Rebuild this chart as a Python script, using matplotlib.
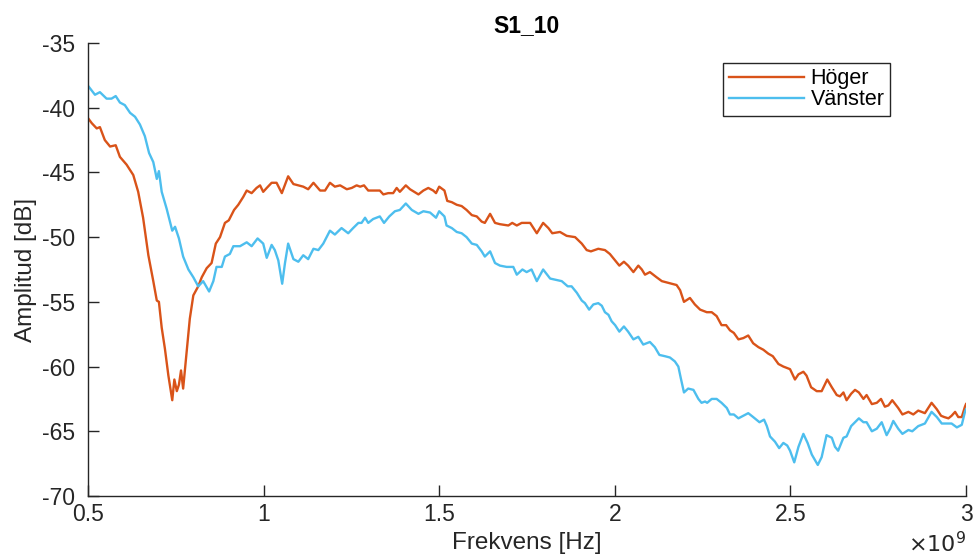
import numpy as np
import matplotlib.pyplot as plt
from matplotlib.ticker import FuncFormatter

plt.rcParams['font.family'] = ['Liberation Sans', 'DejaVu Sans']
plt.rcParams['axes.unicode_minus'] = False

# Frequency in GHz (plotted in Hz), amplitude in dB
hoger_f = [0.500, 0.511, 0.525, 0.534, 0.548, 0.563, 0.579, 0.591, 0.610, 0.629,
           0.643, 0.657, 0.672, 0.686, 0.696, 0.702, 0.710, 0.719, 0.729, 0.740,
           0.746, 0.753, 0.759, 0.765, 0.771, 0.781, 0.790, 0.800, 0.814, 0.824,
           0.838, 0.852, 0.864, 0.876, 0.890, 0.901, 0.916, 0.928, 0.942, 0.952,
           0.966, 0.980, 0.990, 0.999, 1.009, 1.023, 1.037, 1.052, 1.070, 1.085,
           1.099, 1.113, 1.127, 1.142, 1.161, 1.175, 1.189, 1.203, 1.218, 1.237,
           1.251, 1.265, 1.275, 1.286, 1.298, 1.317, 1.331, 1.341, 1.355, 1.369,
           1.379, 1.388, 1.405, 1.417, 1.441, 1.455, 1.469, 1.483, 1.491, 1.500,
           1.515, 1.523, 1.536, 1.550, 1.564, 1.578, 1.593, 1.607, 1.621, 1.630,
           1.645, 1.659, 1.673, 1.697, 1.708, 1.721, 1.735, 1.759, 1.778, 1.796,
           1.811, 1.822, 1.844, 1.863, 1.887, 1.906, 1.920, 1.932, 1.953, 1.972,
           1.986, 2.001, 2.013, 2.026, 2.038, 2.053, 2.067, 2.077, 2.086, 2.100,
           2.119, 2.134, 2.148, 2.162, 2.176, 2.186, 2.197, 2.214, 2.228, 2.243,
           2.262, 2.276, 2.290, 2.304, 2.317, 2.328, 2.339, 2.352, 2.366, 2.380,
           2.394, 2.409, 2.423, 2.437, 2.450, 2.466, 2.480, 2.499, 2.513, 2.523,
           2.537, 2.546, 2.559, 2.575, 2.589, 2.605, 2.618, 2.632, 2.641, 2.651,
           2.660, 2.673, 2.684, 2.695, 2.708, 2.717, 2.732, 2.746, 2.758, 2.769,
           2.779, 2.790, 2.807, 2.819, 2.836, 2.850, 2.864, 2.883, 2.902, 2.917,
           2.929, 2.938, 2.950, 2.959, 2.969, 2.978, 2.988, 2.997, 3.000]
hoger_db = [-40.8, -41.2, -41.6, -41.5, -42.5, -43.0, -42.9, -43.8, -44.4, -45.2,
            -46.5, -48.5, -51.4, -53.4, -54.9, -55.0, -57.0, -58.6, -60.7, -62.6,
            -61.0, -61.9, -61.4, -60.3, -61.7, -58.9, -56.3, -54.5, -53.8, -53.1,
            -52.4, -52.0, -50.5, -50.0, -48.9, -48.7, -47.9, -47.5, -46.9, -46.4,
            -46.6, -46.2, -46.0, -46.5, -46.2, -45.8, -45.8, -46.6, -45.3, -45.9,
            -46.0, -46.1, -46.3, -45.8, -46.4, -46.4, -45.8, -46.1, -46.0, -46.3,
            -46.2, -46.0, -46.1, -46.0, -46.4, -46.4, -46.4, -46.7, -46.6, -46.6,
            -46.2, -46.5, -46.0, -46.3, -46.7, -46.4, -46.2, -46.4, -46.6, -46.1,
            -46.4, -47.2, -47.3, -47.5, -47.6, -47.9, -48.3, -48.4, -48.8, -48.9,
            -48.2, -48.9, -49.0, -49.1, -48.9, -49.1, -48.9, -48.9, -49.7, -48.9,
            -49.3, -49.7, -49.6, -49.9, -50.0, -50.5, -51.0, -51.1, -50.9, -51.0,
            -51.3, -51.8, -52.2, -51.9, -52.2, -52.7, -52.2, -52.5, -52.9, -52.7,
            -53.1, -53.4, -53.5, -53.6, -53.7, -54.1, -55.0, -54.7, -55.2, -55.6,
            -55.8, -55.8, -56.1, -56.8, -56.8, -57.2, -57.4, -57.9, -57.8, -57.6,
            -58.2, -58.5, -58.7, -59.0, -59.2, -59.8, -60.0, -60.2, -61.0, -60.6,
            -60.4, -60.7, -61.6, -61.9, -61.9, -61.0, -61.6, -62.2, -62.3, -62.0,
            -62.6, -62.1, -61.8, -62.0, -62.5, -62.2, -62.9, -62.8, -62.5, -63.1,
            -63.0, -62.6, -63.2, -63.7, -63.5, -63.7, -63.4, -63.6, -62.8, -63.3,
            -63.8, -63.9, -64.0, -63.8, -63.5, -63.9, -63.9, -63.1, -62.9]

vanster_f = [0.500, 0.520, 0.534, 0.553, 0.567, 0.579, 0.591, 0.605, 0.620, 0.634,
             0.648, 0.662, 0.674, 0.686, 0.696, 0.702, 0.710, 0.724, 0.740, 0.748,
             0.759, 0.771, 0.786, 0.800, 0.814, 0.828, 0.845, 0.857, 0.866, 0.881,
             0.890, 0.904, 0.914, 0.933, 0.952, 0.966, 0.983, 0.999, 1.009, 1.023,
             1.032, 1.042, 1.053, 1.061, 1.070, 1.085, 1.099, 1.113, 1.127, 1.142,
             1.156, 1.170, 1.189, 1.203, 1.222, 1.241, 1.255, 1.270, 1.279, 1.289,
             1.298, 1.312, 1.331, 1.343, 1.358, 1.374, 1.388, 1.405, 1.422, 1.441,
             1.455, 1.474, 1.491, 1.500, 1.515, 1.521, 1.536, 1.550, 1.564, 1.578,
             1.593, 1.607, 1.621, 1.630, 1.645, 1.659, 1.673, 1.692, 1.711, 1.721,
             1.737, 1.749, 1.763, 1.778, 1.796, 1.816, 1.832, 1.849, 1.866, 1.877,
             1.892, 1.906, 1.915, 1.927, 1.939, 1.953, 1.963, 1.972, 1.982, 1.991,
             2.001, 2.013, 2.026, 2.038, 2.053, 2.067, 2.081, 2.100, 2.114, 2.127,
             2.143, 2.157, 2.171, 2.181, 2.188, 2.197, 2.209, 2.224, 2.238, 2.247,
             2.257, 2.263, 2.276, 2.290, 2.304, 2.319, 2.328, 2.339, 2.352, 2.366,
             2.380, 2.394, 2.412, 2.425, 2.433, 2.442, 2.456, 2.468, 2.480, 2.491,
             2.499, 2.511, 2.523, 2.537, 2.549, 2.561, 2.578, 2.589, 2.603, 2.618,
             2.627, 2.636, 2.651, 2.660, 2.673, 2.684, 2.695, 2.708, 2.717, 2.732,
             2.746, 2.760, 2.774, 2.784, 2.793, 2.807, 2.819, 2.836, 2.847, 2.864,
             2.883, 2.902, 2.917, 2.931, 2.945, 2.959, 2.974, 2.988, 2.997, 3.000]
vanster_db = [-38.3, -39.0, -38.8, -39.3, -39.3, -39.1, -39.6, -39.8, -40.4, -40.7,
              -41.3, -42.2, -43.5, -44.2, -45.5, -44.9, -46.5, -47.8, -49.5, -49.2,
              -50.1, -51.5, -52.5, -53.1, -53.8, -53.4, -54.2, -53.4, -52.3, -52.3,
              -51.5, -51.3, -50.7, -50.7, -50.4, -50.7, -50.1, -50.5, -51.6, -50.6,
              -51.0, -51.8, -53.6, -52.0, -50.5, -51.7, -51.9, -51.4, -51.7, -50.9,
              -51.0, -50.5, -49.5, -49.8, -49.3, -49.7, -49.3, -48.9, -48.9, -48.5,
              -48.9, -48.6, -48.4, -48.9, -48.4, -48.0, -47.9, -47.4, -47.9, -48.2,
              -48.0, -48.1, -48.5, -48.0, -48.4, -49.1, -49.3, -49.6, -49.7, -50.0,
              -50.5, -50.6, -51.1, -51.5, -51.1, -52.0, -52.2, -52.3, -52.3, -52.9,
              -52.5, -52.7, -52.5, -53.4, -52.5, -53.2, -53.3, -53.4, -53.8, -53.8,
              -54.3, -54.9, -55.1, -55.6, -55.2, -55.1, -55.3, -55.8, -56.0, -56.5,
              -56.8, -57.3, -56.9, -57.3, -57.9, -57.7, -58.3, -58.1, -58.5, -59.1,
              -59.2, -59.3, -59.6, -60.0, -60.9, -62.0, -61.7, -61.8, -62.5, -62.8,
              -62.7, -62.8, -62.5, -62.5, -62.8, -63.2, -63.7, -63.7, -64.0, -63.8,
              -63.6, -63.9, -64.3, -64.1, -64.6, -65.4, -65.8, -66.3, -65.9, -66.1,
              -66.5, -67.4, -66.2, -65.2, -65.9, -66.8, -67.6, -67.0, -65.3, -65.5,
              -66.2, -66.5, -65.5, -65.4, -64.6, -64.3, -64.0, -64.3, -64.3, -65.0,
              -64.8, -64.3, -65.3, -64.8, -64.2, -64.8, -65.2, -64.9, -65.0, -64.6,
              -64.4, -63.5, -63.9, -64.4, -64.4, -64.4, -64.7, -64.5, -63.5, -63.3]

x_ticks = [0.5, 1, 1.5, 2, 2.5, 3]
y_ticks = [-70, -65, -60, -55, -50, -45, -40, -35]

dark = '#262626'

fig = plt.figure(figsize=(9.73, 5.59), dpi=100)
ax = fig.add_axes([0.0904, 0.1127, 0.9024, 0.8104])

ax.plot(np.array(hoger_f) * 1e9, hoger_db, color='#D95319', lw=1.7, label='Höger')
ax.plot(np.array(vanster_f) * 1e9, vanster_db, color='#4DBEEE', lw=1.7, label='Vänster')

ax.set_xlim(0.5e9, 3e9)
ax.set_ylim(-70, -35)
ax.set_xticks(np.array(x_ticks) * 1e9)
ax.set_yticks(y_ticks)
ax.xaxis.set_major_formatter(FuncFormatter(lambda v, p: '%g' % (v / 1e9)))

for s in ['top', 'right']:
    ax.spines[s].set_visible(False)
for s in ['left', 'bottom']:
    ax.spines[s].set_color(dark)
    ax.spines[s].set_linewidth(1.0)
ax.tick_params(direction='in', length=8, width=1.0, colors=dark, labelsize=16.5)
ax.tick_params(axis='x', pad=5)
ax.tick_params(axis='y', pad=9)

ax.set_xlabel('Frekvens [Hz]', fontsize=17.5, color=dark, labelpad=4)
ax.set_ylabel('Amplitud [dB]', fontsize=17.5, color=dark, labelpad=4)
ax.set_title('S1_10', fontsize=16.5, fontweight='bold', pad=8)
ax.text(1.0, -0.134, r'$\times10^{9}$', transform=ax.transAxes, ha='right', va='bottom',
        fontsize=16, color=dark)

leg = ax.legend(loc='upper right', bbox_to_anchor=(0.9134, 0.9558), fontsize=15.5,
                fancybox=False, framealpha=1, edgecolor=dark, handlelength=3.5,
                borderpad=0.25, labelspacing=0.0, handletextpad=0.3, borderaxespad=0)
leg.get_frame().set_linewidth(1.0)

fig.savefig('out.png', dpi=100)
